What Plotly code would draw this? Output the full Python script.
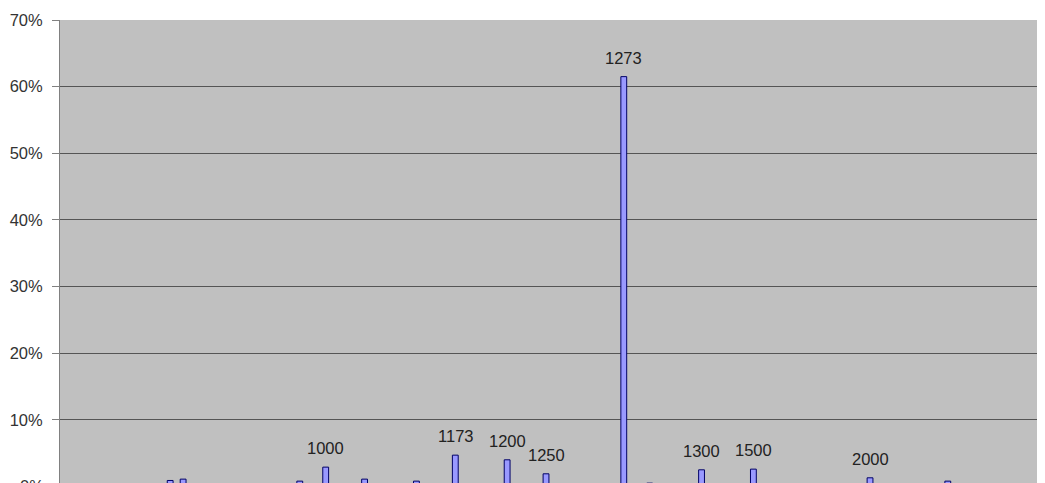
import plotly.graph_objects as go

# Category axis (sorted values); only some categories carry a share
categories = [
    "100", "150", "200", "250", "300", "350", "400", "450",
    "500", "550", "600", "625", "650", "700", "720", "750",
    "800", "850", "900", "950", "1000", "1020", "1050", "1073",
    "1080", "1100", "1120", "1150", "1160", "1170", "1173", "1175",
    "1180", "1190", "1200", "1210", "1225", "1250", "1255", "1260",
    "1265", "1270", "1272", "1273", "1275", "1280", "1285", "1290",
    "1295", "1300", "1350", "1400", "1450", "1500", "1550", "1600",
    "1650", "1700", "1750", "1800", "1850", "1900", "2000", "2100",
    "2200", "2300", "2400", "2500", "2600", "2700", "2800", "2900",
    "3000", "3200", "3500", "4000",
]

shares = [
    0, 0, 0, 0, 0, 0, 0, 0,
    0.009, 0.011, 0, 0, 0, 0, 0, 0,
    0, 0, 0.008, 0, 0.029, 0, 0, 0.011,
    0, 0, 0, 0.008, 0, 0, 0.047, 0,
    0, 0, 0.040, 0, 0, 0.019, 0, 0,
    0, 0, 0, 0.615, 0, 0.005, 0, 0,
    0, 0.025, 0, 0, 0, 0.026, 0, 0,
    0, 0, 0, 0, 0, 0, 0.013, 0,
    0, 0, 0, 0, 0.008, 0, 0, 0,
    0, 0, 0, 0,
]

labeled = ["1000", "1173", "1200", "1250", "1273", "1300", "1500", "2000"]

y_ticks = [0.1, 0.2, 0.3, 0.4, 0.5, 0.6, 0.7]
y_tick_text = ["10%", "20%", "30%", "40%", "50%", "60%", "70%"]

FONT = "Liberation Sans, Arial, sans-serif"
Y_RANGE = [0.0052, 0.70]

fig = go.Figure()
fig.add_trace(go.Bar(
    x=categories,
    y=shares,
    width=0.45,
    marker=dict(color="#9999FF", line=dict(color="#000066", width=1)),
    hoverinfo="x+y",
))

annotations = []
for lab in labeled:
    i = categories.index(lab)
    annotations.append(dict(
        x=i, y=shares[i], xref="x", yref="y",
        text=lab, showarrow=False, yanchor="middle", yshift=19,
        font=dict(family=FONT, size=16.5, color="#222222"),
    ))
# partially visible 0% label at the cropped bottom (below the plot area)
annotations.append(dict(
    x=0, xref="paper", xanchor="right", xshift=-14,
    y=(0 - Y_RANGE[0]) / (Y_RANGE[1] - Y_RANGE[0]), yref="paper", yanchor="middle",
    text="0%", showarrow=False,
    font=dict(family=FONT, size=16.5, color="#333333"),
))

# the page body adds an 8px offset, so the figure is sized to end at the window edge
fig.update_layout(
    width=1037, height=475,
    margin=dict(l=52, r=0, t=12, b=0),
    paper_bgcolor="white",
    plot_bgcolor="#C0C0C0",
    showlegend=False,
    bargap=0.55,
    annotations=annotations,
    font=dict(family=FONT, size=16.5, color="#333333"),
)
fig.update_xaxes(
    type="category",
    categoryorder="array", categoryarray=categories,
    showticklabels=False, showgrid=False, ticks="",
    range=[-0.5, len(categories) - 0.5],
    zeroline=False,
)
fig.update_yaxes(
    range=Y_RANGE,
    tickvals=y_ticks, ticktext=y_tick_text,
    showgrid=True, gridcolor="#555555", gridwidth=1,
    showline=True, linecolor="#808080", linewidth=1,
    ticks="outside", ticklen=7, tickcolor="#808080",
    ticklabelstandoff=6,
    zeroline=False,
    tickfont=dict(family=FONT, size=16.5, color="#333333"),
)

fig.write_html("out.html")
